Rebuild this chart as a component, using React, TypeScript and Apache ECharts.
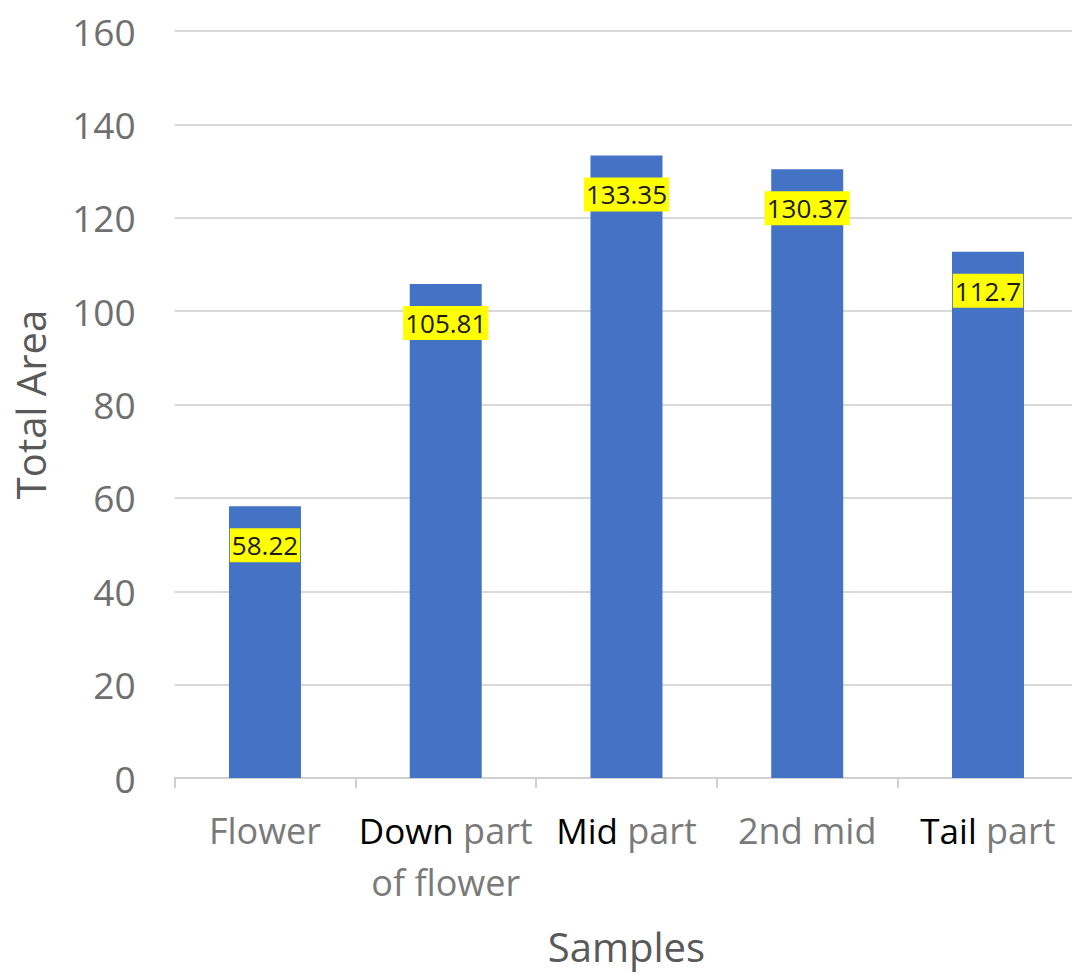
import React, { useEffect, useRef } from "react";
import * as echarts from "echarts";

const categories = ["Flower", "Down part\nof flower", "Mid part", "2nd mid", "Tail part"];
const values = [58.22, 105.81, 133.35, 130.37, 112.7];
const yMin = 0;
const yMax = 160;
const yStep = 20;

const FONT = "'Open Sans', 'Noto Sans', sans-serif";

function formatCategory(v: string): string {
  if (v.startsWith("Down")) return "{k|Down} part\nof flower";
  if (v.startsWith("Mid")) return "{k|Mid} part";
  if (v.startsWith("Tail")) return "{k|Tail} part";
  return v;
}

export default function App() {
  const ref = useRef<HTMLDivElement>(null);
  useEffect(() => {
    if (!ref.current) return;
    const chart = echarts.init(ref.current, undefined, { renderer: "svg" });
    chart.setOption({
      animation: false,
      backgroundColor: "#ffffff",
      grid: { left: 174.6, top: 31, width: 903.75, height: 747, containLabel: false },
      xAxis: {
        type: "category",
        data: categories,
        name: "Samples",
        nameLocation: "middle",
        nameGap: 148,
        nameTextStyle: { fontFamily: FONT, fontSize: 40, color: "#595959" },
        axisLine: { show: true, lineStyle: { color: "#d0d0d0", width: 2 } },
        axisTick: { show: true, length: 10, alignWithLabel: false, lineStyle: { color: "#d0d0d0", width: 2 } },
        axisLabel: {
          interval: 0,
          margin: 26,
          fontFamily: FONT,
          fontSize: 36,
          lineHeight: 52,
          color: "#7a7a7a",
          formatter: formatCategory,
          rich: {
            k: { fontFamily: FONT, fontSize: 35, lineHeight: 52, color: "#000000" },
          },
        },
      },
      yAxis: {
        type: "value",
        min: yMin,
        max: yMax,
        interval: yStep,
        name: "Total Area",
        nameLocation: "middle",
        nameGap: 124,
        nameTextStyle: { fontFamily: FONT, fontSize: 40, color: "#595959" },
        axisLine: { show: false },
        axisTick: { show: false },
        axisLabel: { margin: 39, fontFamily: FONT, fontSize: 37, color: "#6f6f6f" },
        splitLine: { show: true, lineStyle: { color: "#d9d9d9", width: 2 } },
      },
      series: [
        {
          type: "bar",
          data: values,
          barWidth: 72,
          itemStyle: { color: "#4472C4" },
          label: {
            show: true,
            position: "insideTop",
            distance: 22,
            fontFamily: FONT,
            fontSize: 26,
            lineHeight: 26,
            color: "#1a1a1a",
            backgroundColor: "#FFFF00",
            padding: [4, 2, 4, 2],
            formatter: (p: any) => String(p.value),
          },
        },
      ],
    });
    return () => chart.dispose();
  }, []);
  return (
    <div
      style={{ position: "absolute", left: 0, top: 0, width: 1072, height: 974, overflow: "hidden" }}
    >
      <div ref={ref} style={{ width: 1080, height: 974 }} />
    </div>
  );
}
